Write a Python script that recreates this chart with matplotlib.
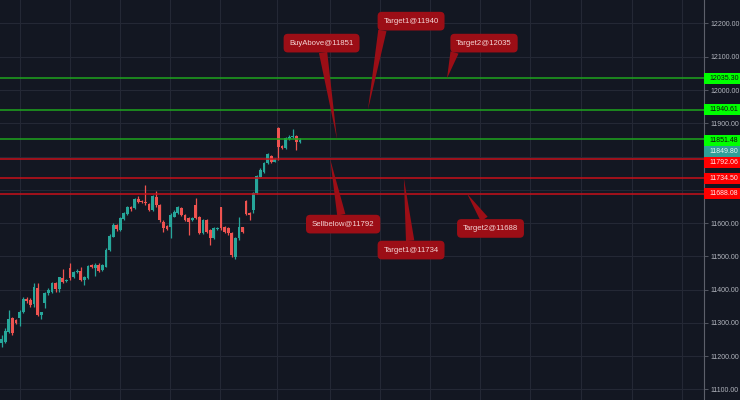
import matplotlib
matplotlib.use("Agg")
import matplotlib.pyplot as plt
import matplotlib.transforms as mtransforms
from matplotlib.patches import Rectangle

plt.rcParams['font.family'] = ['Liberation Sans', 'DejaVu Sans']

# candles (oldest first)
opens = [11240, 11243, 11273, 11314, 11309, 11314, 11334, 11371, 11369, 11357,
         11406, 11324, 11359, 11389, 11394, 11421, 11401, 11436, 11425, 11464,
         11437, 11453, 11457, 11429, 11434, 11474, 11464, 11474, 11459, 11469,
         11519, 11559, 11594, 11579, 11611, 11627, 11647, 11644, 11674, 11666,
         11664, 11657, 11639, 11679, 11654, 11604, 11591, 11587, 11619, 11629,
         11644, 11624, 11614, 11609, 11654, 11619, 11569, 11609, 11579, 11554,
         11581, 11647, 11589, 11584, 11571, 11499, 11554, 11587, 11666, 11631,
         11639, 11690, 11739, 11754, 11780, 11802, 11785, 11885, 11832, 11825,
         11852, 11858, 11862, 11845]
highs = [11264, 11284, 11339, 11319, 11311, 11339, 11379, 11379, 11374, 11419,
         11421, 11334, 11394, 11404, 11424, 11424, 11439, 11461, 11431, 11481,
         11457, 11461, 11469, 11441, 11474, 11477, 11481, 11481, 11477, 11524,
         11567, 11599, 11597, 11619, 11634, 11651, 11651, 11677, 11681, 11669,
         11714, 11659, 11684, 11697, 11657, 11609, 11594, 11629, 11639, 11651,
         11647, 11627, 11617, 11617, 11677, 11621, 11611, 11611, 11581, 11589,
         11587, 11649, 11591, 11587, 11574, 11557, 11619, 11589, 11669, 11634,
         11694, 11745, 11765, 11785, 11810, 11805, 11795, 11888, 11835, 11858,
         11865, 11882, 11865, 11855]
lows = [11228, 11239, 11269, 11264, 11297, 11291, 11329, 11361, 11349, 11349,
        11321, 11312, 11344, 11384, 11389, 11394, 11394, 11419, 11423, 11429,
        11434, 11449, 11427, 11414, 11431, 11464, 11441, 11454, 11457, 11467,
        11517, 11557, 11577, 11577, 11609, 11624, 11637, 11641, 11661, 11659,
        11654, 11637, 11637, 11649, 11604, 11574, 11579, 11554, 11617, 11627,
        11621, 11607, 11564, 11607, 11611, 11567, 11567, 11571, 11534, 11551,
        11579, 11579, 11571, 11564, 11499, 11491, 11549, 11571, 11624, 11609,
        11629, 11687, 11738, 11751, 11777, 11782, 11783, 11790, 11822, 11822,
        11850, 11855, 11820, 11842]
closes = [11251, 11276, 11312, 11269, 11299, 11334, 11371, 11367, 11354, 11407,
          11324, 11332, 11391, 11399, 11419, 11401, 11437, 11422, 11429, 11434,
          11454, 11457, 11429, 11437, 11471, 11467, 11474, 11457, 11474, 11519,
          11561, 11594, 11581, 11614, 11629, 11647, 11641, 11672, 11664, 11662,
          11659, 11639, 11681, 11654, 11609, 11584, 11581, 11624, 11634, 11647,
          11624, 11609, 11604, 11614, 11614, 11569, 11609, 11574, 11554, 11584,
          11584, 11584, 11574, 11569, 11504, 11554, 11587, 11574, 11627, 11624,
          11690, 11742, 11760, 11782, 11807, 11785, 11792, 11830, 11825, 11855,
          11860, 11862, 11845, 11849.80]

# horizontal levels
level_prices = [12035.30, 11940.61, 11851.48, 11792.06, 11734.50, 11688.08]
level_kind = ['buy', 'buy', 'buy', 'sell', 'sell', 'sell']

# callouts
callout_texts = ['BuyAbove@11851', 'Target1@11940', 'Target2@12035',
                 'Sellbelow@11792', 'Target1@11734', 'Target2@11688']
callout_levels = [11851.48, 11940.61, 12035.30, 11792.06, 11734.50, 11688.08]
callout_tip_x = [93.3, 101.9, 123.9, 91.4, 111.9, 129.5]
callout_box_x = [89.0, 113.9, 134.2, 95.0, 113.9, 136.0]
callout_box_y = [12141, 12207, 12141, 11597, 11519, 11584]
callout_relpos = [(0.5, 0.5), (0.0, 0.0), (0.0, 0.0),
                  (0.5, 0.5), (0.5, 0.5), (0.5, 0.5)]

bg = '#131722'
up, down = '#26a69a', '#ef5350'
line_col = {'buy': '#1ea51e', 'sell': '#c8101a'}
tag_bg = {'buy': '#00ff00', 'sell': '#ff0000'}
tag_fg = {'buy': '#101010', 'sell': '#ffe8e8'}

fig = plt.figure(figsize=(7.4, 4.0), dpi=100, facecolor=bg)
ax = fig.add_axes([0, 0, 704 / 740, 1])
ax.set_facecolor(bg)

# candles
xs = list(range(len(opens)))
for i in xs:
    o, h, l, c = opens[i], highs[i], lows[i], closes[i]
    col = up if c >= o else down
    ax.vlines(i, l, h, color=col, lw=0.9, zorder=3)
    lo = min(o, c)
    hgt = max(abs(c - o), 3)
    ax.bar(i, hgt, bottom=lo, width=0.78, color=col, lw=0, zorder=4)

for p, k in zip(level_prices, level_kind):
    ax.axhline(p, color=line_col[k], lw=1.1, zorder=5)

ax.set_xlim(-0.47, 195.4)
ax.set_ylim(11068.4, 12270.6)

# grid; 11700 / 11800 labels sit under the price tags
yt = list(range(11100, 12201, 100))
ax.set_yticks(yt)
ax.set_yticklabels(['' if v in (11700, 11800) else '%.2f' % v for v in yt])
grid_px = [20, 70, 120, 170, 220, 277, 330, 380, 430, 480, 530, 581, 632, 682]
ax.set_xticks([(p - 1.7) / 3.594 for p in grid_px])
ax.grid(True, color='#242835', lw=0.8, zorder=0)
ax.tick_params(axis='x', length=0, labelbottom=False)
ax.yaxis.tick_right()
ax.tick_params(axis='y', colors='#5d606b', labelcolor='#b2b5be',
               labelsize=5.0, length=3, pad=2, width=0.6)
for s in ['top', 'bottom', 'left']:
    ax.spines[s].set_visible(False)
ax.spines['right'].set_color('#5d606b')
ax.spines['right'].set_linewidth(0.8)

# price tags on the axis
trans = mtransforms.blended_transform_factory(ax.transAxes, ax.transData)
def price_tag(price, bgc, fgc, dy_px=0):
    off = mtransforms.ScaledTranslation(0, -dy_px / 100.0, fig.dpi_scale_trans)
    t = trans + off
    hh = 11 / 0.3327
    ax.add_patch(Rectangle((1.0, price - hh / 2), 40 / 704, hh, transform=t,
                           facecolor=bgc, edgecolor='none', clip_on=False, zorder=20))
    ax.text(1.0 + 5 / 704, price, '%.2f' % price, transform=t, color=fgc,
            fontsize=5.0, va='center', ha='left', zorder=21, clip_on=False)

tag_shift = [0, 0, 1, 3, 0, 0]
for p, k, d in zip(level_prices, level_kind, tag_shift):
    price_tag(p, tag_bg[k], tag_fg[k], d)
price_tag(closes[-1], '#2f9f98', '#e6f4f3', 11.5)

# callouts
for txt, lvl, tx, bx, by, rp in zip(callout_texts, callout_levels, callout_tip_x,
                                    callout_box_x, callout_box_y, callout_relpos):
    ax.annotate(txt, xy=(tx, lvl), xytext=(bx, by), ha='center', va='center',
                fontsize=5.6, color='#f4d6d6', zorder=30,
                bbox=dict(boxstyle='round,pad=0.75,rounding_size=0.55',
                          fc='#9c0e16', ec='none'),
                arrowprops=dict(arrowstyle='wedge,tail_width=0.6,shrink_factor=0.5',
                                fc='#9c0e16', ec='none', shrinkA=0, shrinkB=0,
                                mutation_scale=10, relpos=rp))

fig.savefig('out.png', dpi=100, facecolor=bg)
